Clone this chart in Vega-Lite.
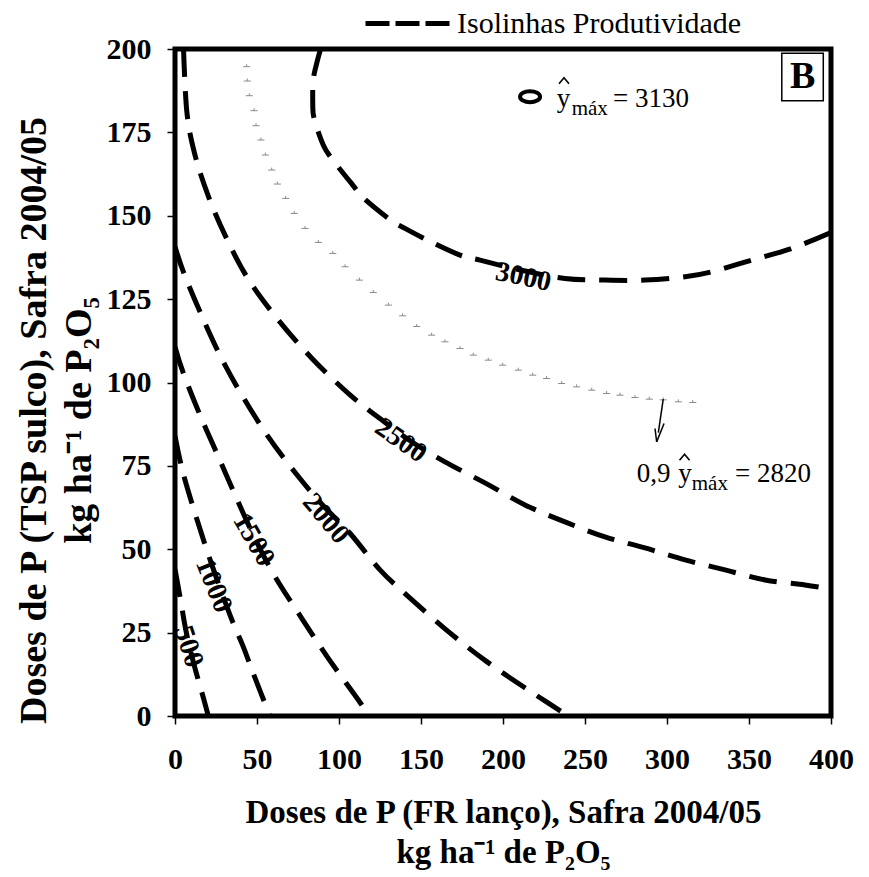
{
  "$schema": "https://vega.github.io/schema/vega-lite/v6.json",
  "width": 656,
  "height": 667,
  "autosize": {"type": "none"},
  "padding": {"left": 175, "top": 49, "right": 38, "bottom": 161},
  "background": "white",
  "config": {
    "view": {"stroke": "black", "strokeWidth": 5},
    "font": "Liberation Serif",
    "axis": {
      "grid": false, "domain": false, "ticks": true,
      "tickColor": "black", "tickWidth": 1.5, "tickSize": 8,
      "labelColor": "black", "labelFont": "Liberation Serif", "labelFontWeight": "bold", "labelFontSize": 30,
      "titleFont": "Liberation Serif", "titleFontWeight": "bold", "titleColor": "black"
    }
  },
  "datasets": {
    "contours": [
      {"lev": 500, "i": 0, "x": 0, "y": 44},
      {"lev": 500, "i": 1, "x": 3.5, "y": 34.5},
      {"lev": 500, "i": 2, "x": 6.5, "y": 26},
      {"lev": 500, "i": 3, "x": 10, "y": 18.5},
      {"lev": 500, "i": 4, "x": 13.5, "y": 12},
      {"lev": 500, "i": 5, "x": 17, "y": 6},
      {"lev": 500, "i": 6, "x": 20.3, "y": 0},
      {"lev": 1000, "i": 0, "x": 0, "y": 84},
      {"lev": 1000, "i": 1, "x": 4.7, "y": 73.3},
      {"lev": 1000, "i": 2, "x": 12.2, "y": 60.8},
      {"lev": 1000, "i": 3, "x": 22, "y": 46},
      {"lev": 1000, "i": 4, "x": 33.5, "y": 30.3},
      {"lev": 1000, "i": 5, "x": 41.6, "y": 20.8},
      {"lev": 1000, "i": 6, "x": 47.7, "y": 12.8},
      {"lev": 1000, "i": 7, "x": 57.9, "y": 0},
      {"lev": 1500, "i": 0, "x": 0, "y": 110.7},
      {"lev": 1500, "i": 1, "x": 5.1, "y": 102.8},
      {"lev": 1500, "i": 2, "x": 15.2, "y": 90.3},
      {"lev": 1500, "i": 3, "x": 26.4, "y": 77.8},
      {"lev": 1500, "i": 4, "x": 36.6, "y": 66.3},
      {"lev": 1500, "i": 5, "x": 48.5, "y": 53.5},
      {"lev": 1500, "i": 6, "x": 61, "y": 41.8},
      {"lev": 1500, "i": 7, "x": 77.3, "y": 29.3},
      {"lev": 1500, "i": 8, "x": 93.5, "y": 17.3},
      {"lev": 1500, "i": 9, "x": 111.8, "y": 4.8},
      {"lev": 1500, "i": 10, "x": 118, "y": 0},
      {"lev": 2000, "i": 0, "x": 0, "y": 140.7},
      {"lev": 2000, "i": 1, "x": 5.5, "y": 132.7},
      {"lev": 2000, "i": 2, "x": 15.7, "y": 120.7},
      {"lev": 2000, "i": 3, "x": 27.4, "y": 108.2},
      {"lev": 2000, "i": 4, "x": 40.7, "y": 96.3},
      {"lev": 2000, "i": 5, "x": 56.9, "y": 83.7},
      {"lev": 2000, "i": 6, "x": 75.2, "y": 71.8},
      {"lev": 2000, "i": 7, "x": 90.5, "y": 63},
      {"lev": 2000, "i": 8, "x": 106.7, "y": 54.8},
      {"lev": 2000, "i": 9, "x": 125, "y": 43.8},
      {"lev": 2000, "i": 10, "x": 142.3, "y": 35.8},
      {"lev": 2000, "i": 11, "x": 166.7, "y": 25.3},
      {"lev": 2000, "i": 12, "x": 190.1, "y": 16.3},
      {"lev": 2000, "i": 13, "x": 215.4, "y": 7.8},
      {"lev": 2000, "i": 14, "x": 239.8, "y": 0},
      {"lev": 2500, "i": 0, "x": 5.2, "y": 200},
      {"lev": 2500, "i": 1, "x": 7.3, "y": 180.8},
      {"lev": 2500, "i": 2, "x": 12.2, "y": 168.2},
      {"lev": 2500, "i": 3, "x": 20.1, "y": 156.2},
      {"lev": 2500, "i": 4, "x": 30.5, "y": 144.2},
      {"lev": 2500, "i": 5, "x": 43.9, "y": 131.6},
      {"lev": 2500, "i": 6, "x": 61.6, "y": 119.6},
      {"lev": 2500, "i": 7, "x": 83.4, "y": 107.3},
      {"lev": 2500, "i": 8, "x": 106.7, "y": 96.3},
      {"lev": 2500, "i": 9, "x": 126, "y": 88.8},
      {"lev": 2500, "i": 10, "x": 145, "y": 82},
      {"lev": 2500, "i": 11, "x": 164.6, "y": 76.2},
      {"lev": 2500, "i": 12, "x": 189, "y": 69.9},
      {"lev": 2500, "i": 13, "x": 213.4, "y": 63.3},
      {"lev": 2500, "i": 14, "x": 237.8, "y": 58.2},
      {"lev": 2500, "i": 15, "x": 262.2, "y": 53.7},
      {"lev": 2500, "i": 16, "x": 286.6, "y": 50.4},
      {"lev": 2500, "i": 17, "x": 311, "y": 46.8},
      {"lev": 2500, "i": 18, "x": 335.4, "y": 43.8},
      {"lev": 2500, "i": 19, "x": 359.8, "y": 40.8},
      {"lev": 2500, "i": 20, "x": 384.1, "y": 39.3},
      {"lev": 2500, "i": 21, "x": 400, "y": 38},
      {"lev": 3000, "i": 0, "x": 88.8, "y": 200},
      {"lev": 3000, "i": 1, "x": 86.4, "y": 195.7},
      {"lev": 3000, "i": 2, "x": 84.3, "y": 190.7},
      {"lev": 3000, "i": 3, "x": 84, "y": 183.7},
      {"lev": 3000, "i": 4, "x": 84.8, "y": 179.2},
      {"lev": 3000, "i": 5, "x": 90.4, "y": 171.2},
      {"lev": 3000, "i": 6, "x": 95.5, "y": 167.2},
      {"lev": 3000, "i": 7, "x": 108.4, "y": 159.2},
      {"lev": 3000, "i": 8, "x": 115.2, "y": 155.2},
      {"lev": 3000, "i": 9, "x": 131.5, "y": 148.7},
      {"lev": 3000, "i": 10, "x": 140.2, "y": 146.2},
      {"lev": 3000, "i": 11, "x": 155.9, "y": 142.2},
      {"lev": 3000, "i": 12, "x": 173.8, "y": 138.2},
      {"lev": 3000, "i": 13, "x": 186, "y": 136.7},
      {"lev": 3000, "i": 14, "x": 210, "y": 133.8},
      {"lev": 3000, "i": 15, "x": 237.8, "y": 131.2},
      {"lev": 3000, "i": 16, "x": 262.2, "y": 130.7},
      {"lev": 3000, "i": 17, "x": 286.6, "y": 130.7},
      {"lev": 3000, "i": 18, "x": 311, "y": 131.7},
      {"lev": 3000, "i": 19, "x": 327.3, "y": 133.2},
      {"lev": 3000, "i": 20, "x": 351.6, "y": 136.7},
      {"lev": 3000, "i": 21, "x": 376, "y": 140.2},
      {"lev": 3000, "i": 22, "x": 400, "y": 145}
    ],
    "ridge": [
      {"x": 43.7, "y": 194.7}, {"x": 44.1, "y": 190.4}, {"x": 45.3, "y": 186}, {"x": 48.2, "y": 181.5},
      {"x": 49.4, "y": 177}, {"x": 52.4, "y": 172.7}, {"x": 55.1, "y": 168.2}, {"x": 59, "y": 163.7},
      {"x": 62.4, "y": 159.5}, {"x": 67.5, "y": 155.2}, {"x": 72.7, "y": 150.7}, {"x": 79.3, "y": 146.2},
      {"x": 87.4, "y": 142}, {"x": 96.2, "y": 138.7}, {"x": 103.7, "y": 134.7}, {"x": 112.4, "y": 130.7},
      {"x": 120.9, "y": 127}, {"x": 130.1, "y": 123.2}, {"x": 138.8, "y": 120}, {"x": 147.4, "y": 116.8},
      {"x": 156.5, "y": 114.2}, {"x": 164.6, "y": 112.2}, {"x": 173.8, "y": 110.2}, {"x": 181.9, "y": 108.2},
      {"x": 191, "y": 106.7}, {"x": 199.8, "y": 105.2}, {"x": 209.3, "y": 103.7}, {"x": 218.1, "y": 102.2},
      {"x": 226.6, "y": 101.2}, {"x": 235.8, "y": 99.7}, {"x": 244.9, "y": 98.7}, {"x": 254.1, "y": 97.7},
      {"x": 263.2, "y": 96.7}, {"x": 271.3, "y": 96.2}, {"x": 280.5, "y": 95.5}, {"x": 289.2, "y": 95},
      {"x": 297.7, "y": 94.8}, {"x": 306.9, "y": 94.2}, {"x": 315.7, "y": 94}
    ],
    "labels": [
      {"lev": 3000, "x": 212.4, "y": 131.5, "t": "3000"},
      {"lev": 2500, "x": 137.6, "y": 82.5, "t": "2500"},
      {"lev": 2000, "x": 91.9, "y": 59.1, "t": "2000"},
      {"lev": 1500, "x": 47.8, "y": 52.8, "t": "1500"},
      {"lev": 1000, "x": 23.4, "y": 39.1, "t": "1000"},
      {"lev": 500, "x": 8.1, "y": 20.8, "t": "500"}
    ],
    "arrow": [
      {"x": 297.7, "y": 95.0, "x2": 294.7, "y2": 85.0},
      {"x": 292.7, "y": 86.2, "x2": 293.7, "y2": 82.2},
      {"x": 293.7, "y": 82.2, "x2": 298.2, "y2": 87.7}
    ],
    "notes": [
      {"x": 232.7, "y": 182.7, "t": "y"},
      {"x": 267.1, "y": 182.7, "t": "= 3130"},
      {"x": 281.5, "y": 70.3, "t": "0,9"},
      {"x": 306.9, "y": 70.3, "t": "y"},
      {"x": 341.5, "y": 70.3, "t": "= 2820"}
    ],
    "hats": [
      {"x": 237.2, "y": 190.5},
      {"x": 310.7, "y": 77.6}
    ],
    "subs": [
      {"x": 241.9, "y": 180.2, "t": "máx"},
      {"x": 315.1, "y": 67.8, "t": "máx"}
    ],
    "optimum": [{"x": 216.5, "y": 185.7}],
    "box": [{"x": 370, "x2": 395.3, "y": 184.5, "y2": 198.7, "t": "B", "xc": 382.7, "yc": 191.6}]
  },
  "layer": [
    {
      "data": {"name": "ridge"},
      "mark": {"type": "point", "shape": "M-1,0L1,0M0,0L0,-0.7", "size": 50, "filled": false, "stroke": "#8a8a8a", "strokeWidth": 1, "opacity": 1},
      "encoding": {
        "x": {"field": "x", "type": "quantitative", "scale": {"domain": [0, 400], "nice": false, "zero": false},
          "axis": {
            "values": [0, 50, 100, 150, 200, 250, 300, 350, 400],
            "labelPadding": 20, "labelOverlap": false, "labelFlush": false, "labelBound": false,
            "title": ["Doses de P (FR lanço), Safra 2004/05", "kg ha⁻¹ de P₂O₅"],
            "titleFontSize": 33, "titleLineHeight": 40, "titleBaseline": "alphabetic",
            "titleX": 328, "titleY": 106, "titleAlign": "center", "titleAngle": 0
          }},
        "y": {"field": "y", "type": "quantitative", "scale": {"domain": [0, 200], "nice": false, "zero": false},
          "axis": {
            "values": [0, 25, 50, 75, 100, 125, 150, 175, 200],
            "labelPadding": 16, "labelOverlap": false, "labelFlush": false, "labelBound": false,
            "title": ["Doses de P (TSP sulco), Safra 2004/05", "kg ha⁻¹ de P₂O₅"],
            "titleFontSize": 38, "titleLineHeight": 45, "titleBaseline": "alphabetic",
            "titleX": -130, "titleY": 371, "titleAlign": "center", "titleAngle": -90
          }}
      }
    },
    {
      "data": {"name": "contours"},
      "mark": {"type": "line", "color": "black", "strokeWidth": 5, "strokeDash": [28, 14], "interpolate": "cardinal", "clip": true},
      "encoding": {
        "x": {"field": "x", "type": "quantitative"},
        "y": {"field": "y", "type": "quantitative"},
        "detail": {"field": "lev", "type": "nominal"},
        "order": {"field": "i", "type": "quantitative"}
      }
    },
    {
      "data": {"values": []},
      "mark": {"type": "rule", "color": "black", "strokeWidth": 5},
      "encoding": {
        "strokeDash": {
          "datum": "Isolinhas Produtividade",
          "type": "nominal",
          "scale": {"domain": ["Isolinhas Produtividade"], "range": [[24, 6]]},
          "legend": {
            "orient": "none", "legendX": 188, "legendY": -70, "title": null, "padding": 0,
            "symbolType": "stroke", "symbolSize": 7056, "symbolStrokeWidth": 5, "symbolStrokeColor": "black",
            "labelFont": "Liberation Serif", "labelFontSize": 30, "labelFontWeight": "normal", "labelColor": "black",
            "labelOffset": 5, "labelLimit": 500
          }
        }
      }
    },
    {
      "data": {"name": "labels"},
      "transform": [{"filter": "datum.lev == 3000"}],
      "mark": {"type": "text", "font": "Liberation Serif", "fontWeight": "bold", "fontSize": 28, "align": "center", "baseline": "middle", "angle": 12, "color": "black"},
      "encoding": {"x": {"field": "x", "type": "quantitative"}, "y": {"field": "y", "type": "quantitative"}, "text": {"field": "t"}}
    },
    {
      "data": {"name": "labels"},
      "transform": [{"filter": "datum.lev == 2500"}],
      "mark": {"type": "text", "font": "Liberation Serif", "fontWeight": "bold", "fontSize": 28, "align": "center", "baseline": "middle", "angle": 35, "color": "black"},
      "encoding": {"x": {"field": "x", "type": "quantitative"}, "y": {"field": "y", "type": "quantitative"}, "text": {"field": "t"}}
    },
    {
      "data": {"name": "labels"},
      "transform": [{"filter": "datum.lev == 2000"}],
      "mark": {"type": "text", "font": "Liberation Serif", "fontWeight": "bold", "fontSize": 28, "align": "center", "baseline": "middle", "angle": 50, "color": "black"},
      "encoding": {"x": {"field": "x", "type": "quantitative"}, "y": {"field": "y", "type": "quantitative"}, "text": {"field": "t"}}
    },
    {
      "data": {"name": "labels"},
      "transform": [{"filter": "datum.lev == 1500"}],
      "mark": {"type": "text", "font": "Liberation Serif", "fontWeight": "bold", "fontSize": 28, "align": "center", "baseline": "middle", "angle": 60, "color": "black"},
      "encoding": {"x": {"field": "x", "type": "quantitative"}, "y": {"field": "y", "type": "quantitative"}, "text": {"field": "t"}}
    },
    {
      "data": {"name": "labels"},
      "transform": [{"filter": "datum.lev == 1000"}],
      "mark": {"type": "text", "font": "Liberation Serif", "fontWeight": "bold", "fontSize": 28, "align": "center", "baseline": "middle", "angle": 68, "color": "black"},
      "encoding": {"x": {"field": "x", "type": "quantitative"}, "y": {"field": "y", "type": "quantitative"}, "text": {"field": "t"}}
    },
    {
      "data": {"name": "labels"},
      "transform": [{"filter": "datum.lev == 500"}],
      "mark": {"type": "text", "font": "Liberation Serif", "fontWeight": "bold", "fontSize": 28, "align": "center", "baseline": "middle", "angle": 72, "color": "black"},
      "encoding": {"x": {"field": "x", "type": "quantitative"}, "y": {"field": "y", "type": "quantitative"}, "text": {"field": "t"}}
    },
    {
      "data": {"name": "optimum"},
      "mark": {"type": "point", "shape": "M-1,0A1,0.55,0,1,1,1,0A1,0.55,0,1,1,-1,0Z", "size": 400, "filled": false, "stroke": "black", "strokeWidth": 4, "opacity": 1},
      "encoding": {"x": {"field": "x", "type": "quantitative"}, "y": {"field": "y", "type": "quantitative"}}
    },
    {
      "data": {"name": "hats"},
      "mark": {"type": "point", "shape": "M-1,0.6L0,-0.6L1,0.6", "size": 100, "filled": false, "stroke": "black", "strokeWidth": 1.6, "opacity": 1},
      "encoding": {"x": {"field": "x", "type": "quantitative"}, "y": {"field": "y", "type": "quantitative"}}
    },
    {
      "data": {"name": "arrow"},
      "mark": {"type": "rule", "color": "black", "strokeWidth": 1.5},
      "encoding": {
        "x": {"field": "x", "type": "quantitative"}, "y": {"field": "y", "type": "quantitative"},
        "x2": {"field": "x2"}, "y2": {"field": "y2"}
      }
    },
    {
      "data": {"name": "notes"},
      "mark": {"type": "text", "font": "Liberation Serif", "fontSize": 27, "align": "left", "baseline": "alphabetic", "color": "black"},
      "encoding": {"x": {"field": "x", "type": "quantitative"}, "y": {"field": "y", "type": "quantitative"}, "text": {"field": "t"}}
    },
    {
      "data": {"name": "subs"},
      "mark": {"type": "text", "font": "Liberation Serif", "fontSize": 21, "align": "left", "baseline": "alphabetic", "color": "black"},
      "encoding": {"x": {"field": "x", "type": "quantitative"}, "y": {"field": "y", "type": "quantitative"}, "text": {"field": "t"}}
    },
    {
      "data": {"name": "box"},
      "mark": {"type": "rect", "fill": "white", "stroke": "black", "strokeWidth": 1.5},
      "encoding": {
        "x": {"field": "x", "type": "quantitative"}, "x2": {"field": "x2"},
        "y": {"field": "y", "type": "quantitative"}, "y2": {"field": "y2"}
      }
    },
    {
      "data": {"name": "box"},
      "mark": {"type": "text", "font": "Liberation Serif", "fontWeight": "bold", "fontSize": 38, "align": "center", "baseline": "middle", "color": "black"},
      "encoding": {"x": {"field": "xc", "type": "quantitative"}, "y": {"field": "yc", "type": "quantitative"}, "text": {"field": "t"}}
    }
  ]
}
